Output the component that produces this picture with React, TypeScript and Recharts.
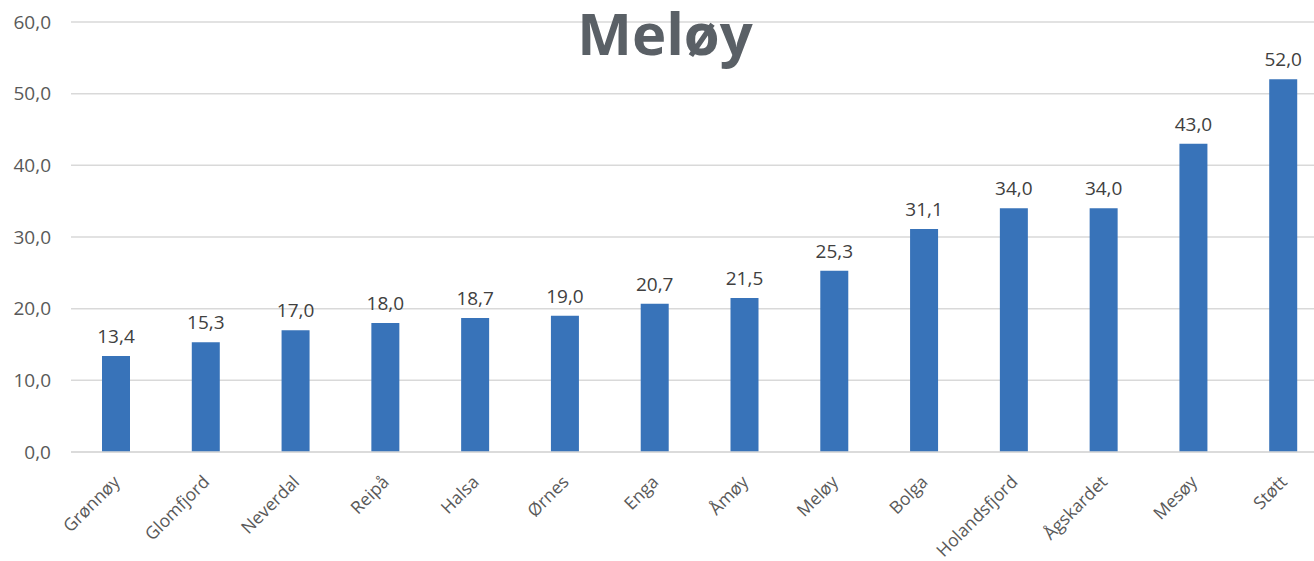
import { BarChart, Bar, XAxis, YAxis, CartesianGrid, LabelList } from "recharts";

const places = [
  "Grønnøy",
  "Glomfjord",
  "Neverdal",
  "Reipå",
  "Halsa",
  "Ørnes",
  "Enga",
  "Åmøy",
  "Meløy",
  "Bolga",
  "Holandsfjord",
  "Ågskardet",
  "Mesøy",
  "Støtt",
];
const values = [13.4, 15.3, 17.0, 18.0, 18.7, 19.0, 20.7, 21.5, 25.3, 31.1, 34.0, 34.0, 43.0, 52.0];
const yTicks = [0, 10, 20, 30, 40, 50, 60];

const data = places.map((name, i) => ({ name, value: values[i] }));

const fmt = (v: number) => Number(v).toFixed(1).replace(".", ",");
const FONT = "'Open Sans', 'Noto Sans', sans-serif";

function RotatedTick(props: any) {
  const { x, y, payload } = props;
  const ax = x + 5;
  const ay = y + 23;
  return (
    <text
      x={ax}
      y={ay}
      transform={`rotate(-45, ${ax}, ${ay})`}
      textAnchor="end"
      fill="#595959"
      fontSize={17.5}
      fontFamily={FONT}
    >
      {payload.value}
    </text>
  );
}

export default function App() {
  return (
    <div
      style={{
        position: "absolute",
        left: 0,
        top: 0,
        width: 1314,
        height: 561,
        overflow: "hidden",
        background: "#fff",
      }}
    >
      <BarChart
        width={1328}
        height={561}
        data={data}
        margin={{ top: 22, right: 0, bottom: 0, left: 0 }}
        barSize={28}
      >
        <CartesianGrid vertical={false} stroke="#d9d9d9" strokeWidth={1.5} />
        <XAxis
          dataKey="name"
          interval={0}
          height={109}
          axisLine={{ stroke: "#d9d9d9", strokeWidth: 1.5 }}
          tickLine={false}
          tick={<RotatedTick />}
        />
        <YAxis
          width={71}
          domain={[0, 60]}
          ticks={yTicks}
          axisLine={false}
          tickLine={false}
          tickSize={0}
          tickMargin={20}
          tickFormatter={fmt}
          tick={{ fill: "#595959", fontSize: 19, fontFamily: FONT }}
        />
        <Bar dataKey="value" fill="#3873b9" isAnimationActive={false}>
          <LabelList
            dataKey="value"
            position="top"
            offset={13}
            formatter={(v: any) => fmt(v)}
            style={{ fill: "#404040", fontSize: 19, fontFamily: FONT }}
          />
        </Bar>
      </BarChart>
      <div
        style={{
          position: "absolute",
          left: 515,
          width: 300,
          top: -7,
          textAlign: "center",
          fontFamily: FONT,
          fontWeight: 700,
          fontSize: 58,
          lineHeight: "80px",
          color: "#5a6066",
        }}
      >
        Meløy
      </div>
    </div>
  );
}
